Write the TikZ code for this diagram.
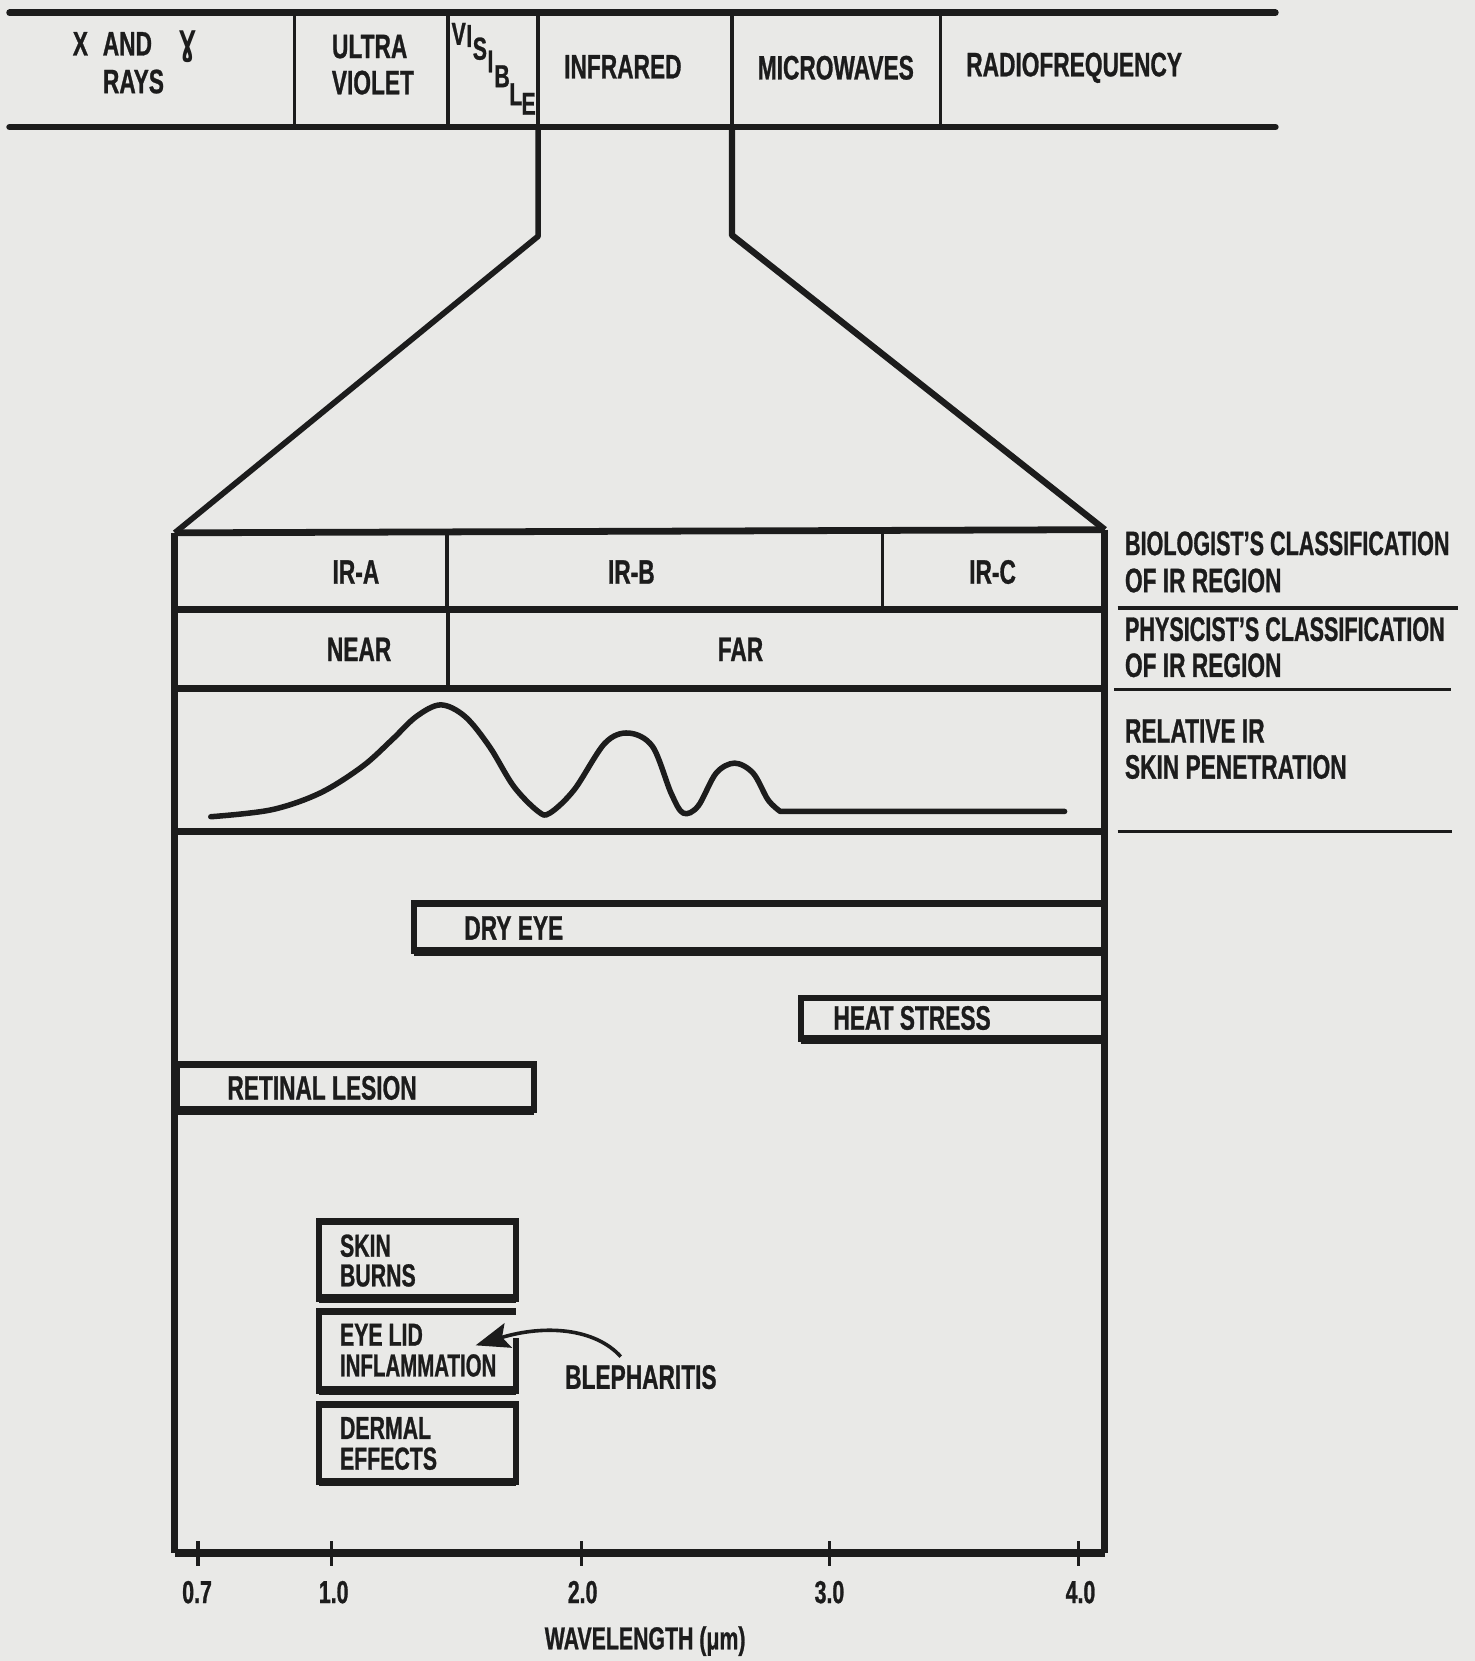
\documentclass[tikz,border=0pt]{standalone}
\usepackage{graphicx}
\usepackage{fontspec}
\setmainfont{Liberation Sans}[FakeStretch=0.67, BoldFeatures={FakeBold=0.8}]
\newfontfamily\gfont{DejaVu Sans}[FakeStretch=0.62]
\usetikzlibrary{arrows.meta}
\definecolor{paper}{RGB}{233,233,231}
\definecolor{ink}{RGB}{28,28,28}
\begin{document}
\begin{tikzpicture}[x=0.5pt,y=-0.5pt,
  every node/.style={inner sep=0pt, outer sep=0pt, text=ink},
  txt/.style={font=\bfseries\fontsize{16}{16}\selectfont},
  smtxt/.style={font=\bfseries\fontsize{15}{15}\selectfont},
  axtxt/.style={font=\bfseries\fontsize{15}{15}\selectfont},
  vis/.style={font=\bfseries\fontsize{15}{15}\selectfont},
  bandline/.style={draw=ink, line width=3.1pt, line cap=round},
  divline/.style={draw=ink, line width=1.7pt},
  funnel/.style={draw=ink, line width=2.7pt, line join=round},
  boxframe/.style={draw=ink, line width=3.2pt, line join=round},
  rowline/.style={draw=ink, line width=3.2pt},
  extline/.style={draw=ink, line width=1.5pt},
  boxline/.style={draw=ink, line width=3pt, line join=miter},
  boxbase/.style={draw=ink, line width=4.2pt},
  pencurve/.style={draw=ink, line width=2.6pt, line cap=round, line join=round},
  tickline/.style={draw=ink, line width=1.7pt},
  arr/.style={draw=ink, line width=1.7pt, -{Stealth[length=16pt,width=12pt,inset=3pt]}}
]
\fill[paper] (0,0) rectangle (1392,1568);
\useasboundingbox (0,0) rectangle (1392,1568);

% ---------- spectrum band ----------
\draw[bandline] (9,12) -- (1204,12);
\draw[bandline] (9,120) -- (1204,120);
\foreach \x in {278,423,508,691,888} \draw[divline] (\x,12) -- (\x,120);

\node[txt] (xg1) at (127,44) {X\hspace{7pt}AND\hspace{13pt}{\gfont\bfseries Ɣ}};
\node[txt] (xg2) at (126,77) {RAYS};
\node[txt] (uv1) at (349,44) {ULTRA};
\node[txt] (uv2) at (352,78) {VIOLET};
\node[vis] (vV) at (433,32) {V};
\node[vis] (vI) at (443,34) {I};
\node[vis] (vS) at (453,46) {S};
\node[vis] (vI2) at (463,58) {I};
\node[vis] (vB) at (474,72) {B};
\node[vis] (vL) at (487,89) {L};
\node[vis] (vE) at (499,98) {E};
\node[txt] (ir) at (588,63) {INFRARED};
\node[txt] (mw) at (789,64) {MICROWAVES};
\node[txt] (rf) at (1014,64) {RADIOFREQUENCY};

% ---------- funnel ----------
\coordinate (fl1) at (508,120);
\coordinate (fl2) at (508,223);
\coordinate (fr1) at (691,120);
\coordinate (fr2) at (691,222);
\coordinate (bTL) at (165,503);
\coordinate (bTR) at (1043,500);
\coordinate (bBL) at (165,1466);
\coordinate (bBR) at (1043,1466);
\draw[funnel] (fl1) -- (fl2) -- (bTL);
\draw[funnel, line width=3pt] (fr1) -- (fr2) -- (bTR);

% ---------- main frame ----------
\draw[boxframe] (bTL) -- (bTR);
\draw[boxframe] (bTL) -- (bBL);
\draw[boxframe] (bTR) -- (bBR);
\draw[draw=ink, line width=4pt] (bBL) -- (bBR);

\draw[rowline] (165,575) -- (1043,575);
\draw[rowline] (165,650) -- (1043,650);
\draw[rowline] (165,785) -- (1043,785);
\draw[divline] (422,503) -- (422,575);
\draw[divline] (833,503) -- (833,575);
\draw[divline] (423,575) -- (423,650);

\node[txt] (ira) at (336,540) {IR-A};
\node[txt] (irb) at (596,540) {IR-B};
\node[txt] (irc) at (937,540) {IR-C};
\node[txt] (near) at (339,613) {NEAR};
\node[txt] (far) at (699,613) {FAR};

% penetration curve
\draw[pencurve] plot[smooth, tension=0.55] coordinates {
 (199,771) (256,764.5) (302,748.7) (342,723.6) (370,698.4) (393,676.4)
 (416,665.4) (439,676.4) (462,704.7) (485,742.4) (508,766) (519,767.6)
 (542,745.6) (571,701.6) (593.5,692) (616,704.7) (633.5,748.7) (645,767.6)
 (659,761) (676,729.9) (693.6,720.4) (711,729.9) (725,755) (736.5,766)}
 -- (1005,766);

% ---------- right-hand labels ----------
\node[txt, anchor=west] (bio1) at (1062,513) {\scalebox{0.95}[1]{BIOLOGIST'S CLASSIFICATION}};
\node[txt, anchor=west] (bio2) at (1062,548) {OF IR REGION};
\draw[extline] (1055,574) -- (1376,574);
\node[txt, anchor=west] (phy1) at (1062,594) {\scalebox{0.95}[1]{PHYSICIST'S CLASSIFICATION}};
\node[txt, anchor=west] (phy2) at (1062,628) {OF IR REGION};
\draw[extline] (1052,651) -- (1370,651);
\node[txt, anchor=west] (rel1) at (1062,690) {RELATIVE IR};
\node[txt, anchor=west] (rel2) at (1062,724) {SKIN PENETRATION};
\draw[extline] (1055,785) -- (1371,785);

% ---------- effect boxes ----------
\draw[boxline] (391,853) rectangle (1043,898);
\draw[boxbase] (391,898) -- (1043,898);
\node[txt] (dry) at (485,876) {DRY EYE};

\draw[boxline] (756,942) rectangle (1043,981);
\draw[boxbase] (756,981) -- (1043,981);
\node[txt] (heat) at (861,961) {HEAT STRESS};

\draw[boxline] (167,1005) rectangle (504,1048);
\draw[boxbase] (167,1048) -- (504,1048);
\node[txt] (ret) at (304,1027) {RETINAL LESION};

\draw[boxline] (301,1153) rectangle (487,1226);
\draw[boxbase] (301,1226) -- (487,1226);
\node[smtxt, anchor=west] (skin1) at (321,1176) {SKIN};
\node[smtxt, anchor=west] (skin2) at (321,1204) {BURNS};

\draw[boxline] (487,1263) -- (487,1313) -- (301,1313) -- (301,1238) -- (487,1238);
\draw[boxbase] (301,1313) -- (487,1313);
\node[smtxt, anchor=west] (eye1) at (321,1260) {EYE LID};
\node[smtxt, anchor=west] (eye2) at (321,1289) {\scalebox{0.96}[1]{INFLAMMATION}};

\draw[boxline] (301,1326) rectangle (487,1399);
\draw[boxbase] (301,1399) -- (487,1399);
\node[smtxt, anchor=west] (derm1) at (321,1348) {DERMAL};
\node[smtxt, anchor=west] (derm2) at (321,1377) {EFFECTS};

\node[txt] (bleph) at (605,1300) {BLEPHARITIS};
\coordinate (bltip) at (449,1270);
\draw[arr] ([xshift=-9.5pt,yshift=4pt]bleph.north) .. controls (562,1254) and (515,1250) .. (bltip);

% ---------- axis ----------
\foreach \x in {187,313,549,783,1018}{
  \draw[tickline] (\x,1455) -- (\x,1478);
}
\node[axtxt] (t07) at (186,1503) {0.7};
\node[axtxt] (t10) at (315,1503) {1.0};
\node[axtxt] (t20) at (550,1503) {2.0};
\node[axtxt] (t30) at (783,1503) {3.0};
\node[axtxt] (t40) at (1020,1503) {4.0};
\node[axtxt, anchor=base] (wl) at (609,1557) {WAVELENGTH (μm)};
\end{tikzpicture}
\end{document}
